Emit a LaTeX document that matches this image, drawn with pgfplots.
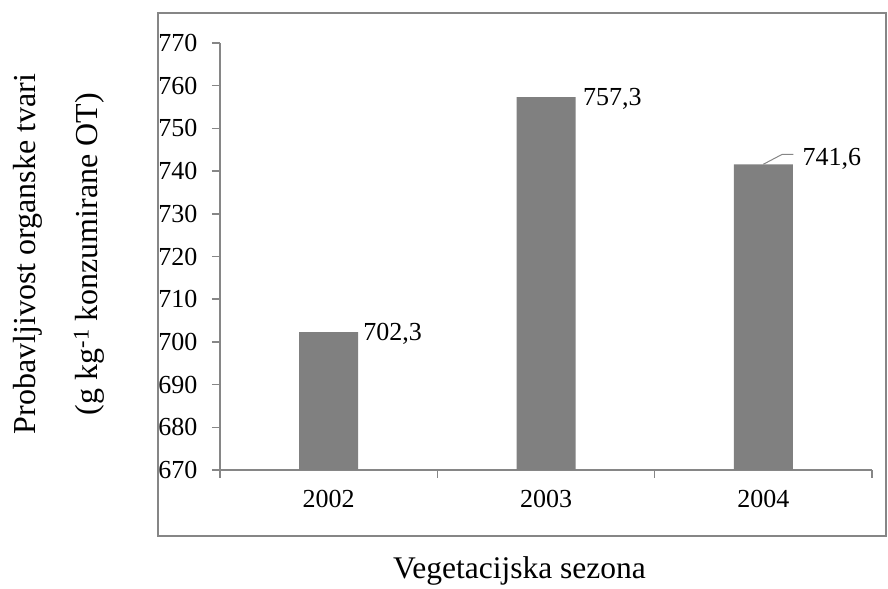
\documentclass[border=0pt]{standalone}
\usepackage{pgfplots}
\pgfplotsset{compat=1.18}
\usepackage{pgfplotstable}
\usepackage{fontspec}
\setmainfont{Liberation Serif}
\definecolor{axgray}{HTML}{868686}
\definecolor{bargray}{HTML}{808080}
\pgfplotstableread{
x y dx dy
0 702.3 34.5 -2
1 757.3 37 -2
2 741.6 39 5
}\bardata
\begin{document}
\begin{tikzpicture}[x=1pt,y=1pt]
\path (0,0) rectangle (888,586);
\draw[axgray, line width=1.5pt] (158,50) rectangle (886,573);
\begin{axis}[
  at={(220pt,116pt)}, anchor=south west,
  scale only axis, width=652pt, height=427pt,
  xmin=-0.5, xmax=2.5, ymin=670, ymax=770,
  axis x line*=bottom, axis y line*=left,
  axis line style={axgray, line width=1.5pt, -},
  ytick={670,680,...,770},
  yticklabel style={xshift=-11pt},
  xtick={-0.5,0.5,1.5,2.5}, xticklabels={},
  extra x ticks={0,1,2}, extra x tick labels={2002,2003,2004},
  extra x tick style={major tick length=0pt, xticklabel style={yshift=-17pt}},
  tick align=outside, major tick length=8pt,
  tick style={axgray, line width=1.5pt},
  tick label style={font=\fontsize{26}{30}\selectfont},
  /pgf/number format/assume math mode=true,
  ylabel={Probavljivost organske tvari\\(g kg\textsuperscript{-1} konzumirane OT)},
  ylabel style={align=center, font=\fontsize{32}{62}\selectfont, at={(axis description cs:-0.2469,0.5059)}, anchor=center},
  xlabel={Vegetacijska sezona},
  xlabel style={font=\fontsize{31.5}{37}\selectfont, at={(axis description cs:0.4594,-0.2365)}, anchor=center},
]
\addplot[ybar, bar width=59pt, bar shift=0pt, fill=bargray, draw=none,
  visualization depends on={\thisrow{dx} \as \dx},
  visualization depends on={\thisrow{dy} \as \dy},
  nodes near coords={\pgfmathprintnumber[fixed, fixed zerofill, precision=1, use comma]{\pgfplotspointmeta}},
  every node near coord/.append style={anchor=west, inner sep=0pt, xshift=\dx pt, yshift=\dy pt, text=black, font=\fontsize{26}{30}\selectfont}
] table[x=x, y=y] {\bardata};
\draw[axgray, line width=1pt] (axis cs:2,741.6) -- ++(19pt,10pt) -- ++(11pt,0pt);
\end{axis}
\end{tikzpicture}
\end{document}
